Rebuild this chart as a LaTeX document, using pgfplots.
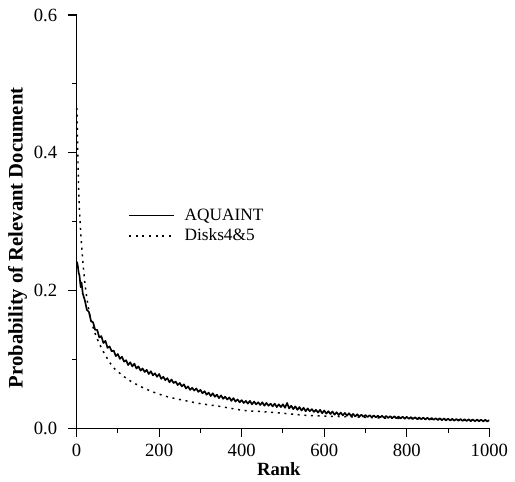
\documentclass[border=0pt]{standalone}
\usepackage{fontspec}
\setmainfont{Liberation Serif}
\usepackage{pgfplots}
\usepackage{pgfplotstable}
\pgfplotsset{compat=1.18}
\pgfplotstableread{
r p
1 0.242
3 0.236
5 0.226
7 0.222
10 0.205
12 0.212
15 0.196
20 0.186
25 0.172
30 0.169
35 0.156
40 0.154
45 0.143
50 0.143
55 0.132
60 0.134
65 0.124
70 0.127
75 0.117
80 0.119
85 0.112
90 0.113
95 0.105
100 0.108
105 0.101
110 0.104
115 0.097
120 0.099
125 0.092
130 0.096
135 0.090
140 0.094
145 0.087
150 0.090
155 0.084
160 0.087
165 0.082
170 0.085
175 0.079
180 0.083
185 0.077
190 0.080
195 0.075
200 0.079
205 0.072
210 0.075
215 0.070
220 0.073
225 0.067
230 0.071
235 0.066
240 0.068
245 0.063
250 0.066
255 0.061
260 0.064
265 0.058
270 0.061
275 0.056
280 0.059
285 0.055
290 0.058
295 0.053
300 0.056
305 0.051
310 0.054
315 0.049
320 0.052
325 0.047
330 0.051
335 0.046
340 0.049
345 0.044
350 0.048
355 0.043
360 0.046
365 0.042
370 0.045
375 0.040
380 0.044
385 0.039
390 0.042
395 0.038
400 0.041
405 0.037
410 0.040
415 0.036
420 0.040
425 0.035
430 0.039
435 0.035
440 0.038
445 0.034
450 0.038
455 0.033
460 0.037
465 0.033
470 0.036
475 0.032
480 0.036
485 0.031
490 0.035
495 0.031
500 0.035
505 0.030
510 0.037
515 0.029
520 0.033
525 0.028
530 0.032
535 0.027
540 0.031
545 0.026
550 0.030
555 0.025
560 0.029
565 0.025
570 0.028
575 0.024
580 0.027
585 0.023
590 0.027
595 0.022
600 0.026
605 0.0215
610 0.025
615 0.021
620 0.0245
625 0.020
630 0.0235
635 0.0195
640 0.023
645 0.019
650 0.0225
655 0.0185
660 0.022
665 0.018
670 0.021
675 0.0175
680 0.0205
685 0.0172
690 0.020
695 0.0168
700 0.0195
705 0.0166
710 0.0192
715 0.0163
720 0.0188
725 0.0161
730 0.0185
735 0.0158
740 0.0183
745 0.0155
750 0.0181
755 0.0153
760 0.0178
765 0.0150
770 0.0176
775 0.0147
780 0.0173
785 0.0145
790 0.0170
795 0.0142
800 0.0168
805 0.0140
810 0.0164
815 0.0138
820 0.0162
825 0.0135
830 0.0160
835 0.0133
840 0.0157
845 0.0130
850 0.0155
855 0.0127
860 0.0152
865 0.0125
870 0.0149
875 0.0122
880 0.0147
885 0.0120
890 0.0144
895 0.0117
900 0.0142
905 0.0115
910 0.0140
915 0.0113
920 0.0138
925 0.0111
930 0.0136
935 0.0110
940 0.0134
945 0.0108
950 0.0132
955 0.0106
960 0.0130
965 0.0105
970 0.0128
975 0.0104
980 0.0126
985 0.0103
990 0.0125
995 0.0102
1000 0.0120
}\aquaint
\pgfplotstableread{
r p
1 0.465
2 0.430
4 0.372
6 0.332
8 0.306
10 0.285
13 0.260
16 0.237
20 0.212
25 0.189
30 0.171
35 0.157
42 0.143
50 0.130
60 0.117
70 0.106
80 0.096
93 0.086
105 0.080
113 0.076
130 0.069
145 0.064
165 0.058
185 0.053
220 0.046
266 0.040
300 0.036
347 0.032
395 0.027
419 0.0255
460 0.024
500 0.022
556 0.019
600 0.018
650 0.017
700 0.016
750 0.015
800 0.0145
850 0.0135
900 0.013
950 0.012
1000 0.0115
}\disks
\begin{document}
\begin{tikzpicture}
\useasboundingbox (-57.5pt,-39.75pt) rectangle (329.25pt,321.75pt);
\begin{axis}[
  scale only axis, width=310pt, height=310.5pt,
  xmin=0, xmax=1000, ymin=0, ymax=0.6,
  axis lines=left,
  axis line style={-, line width=0.8pt},
  tick align=outside,
  major tick length=6.5pt, minor tick length=3.5pt,
  every tick/.style={black, line width=0.8pt},
  xtick={0,200,...,1000}, ytick={0,0.2,0.4,0.6},
  minor x tick num=1, minor y tick num=1,
  tick label style={font=\fontsize{14}{16}\selectfont},
  /pgf/number format/assume math mode=true,
  xticklabel style={/pgf/number format/set thousands separator={}, yshift=-2pt},
  yticklabel style={/pgf/number format/.cd, fixed, fixed zerofill, precision=1, /tikz/xshift=-4.5pt},
  xlabel={Rank},
  label style={font=\fontsize{14}{16}\selectfont\bfseries},
  xlabel style={at={(axis description cs:0.49,-0.099)}, anchor=center},
  extra description/.code={\node[rotate=90, font=\fontsize{15.5}{17}\selectfont\bfseries] at (-0.143,0.461) {Probability of Relevant Document};},
  legend style={draw=none, fill=none, at={(axis description cs:0.115,0.545)}, anchor=north west,
    font=\fontsize{13}{15}\selectfont, row sep=1pt},
  legend cell align=left,
  legend image code/.code={\draw[#1] (0pt,0pt) -- (34pt,0pt); \path (39pt,0pt);},
]
\addplot[black, line width=1.25pt, line join=round] table[x=r, y=p] {\aquaint};
\addlegendentry{AQUAINT}
\addplot[black, line width=1.1pt, dash pattern=on 1.5pt off 3.5pt, smooth] table[x=r, y=p] {\disks};
\addlegendentry{Disks4\&5}
\end{axis}
\end{tikzpicture}
\end{document}
